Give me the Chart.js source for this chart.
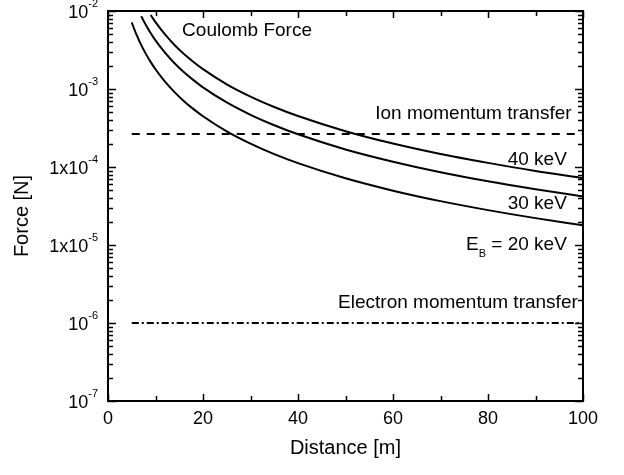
<!DOCTYPE html>
<html>
<head>
<meta charset="utf-8">
<script src="https://cdn.jsdelivr.net/npm/chart.js@4"></script>
<style>
  body { margin: 0; background: #fff; }
  #wrap { width: 624px; height: 475px; }
</style>
</head>
<body>
<div id="wrap"><canvas id="myChart"></canvas></div>
<script>
// Coulomb force curves
const dist20 = [5, 5.5, 6, 7, 8, 9, 10, 12, 14, 16, 18, 20, 25, 30, 35, 40, 50, 60, 70, 80, 90, 100];
const force20 = [7.16e-3, 5.92e-3, 4.97e-3, 3.65e-3, 2.80e-3, 2.21e-3, 1.79e-3, 1.24e-3, 9.13e-4, 6.99e-4, 5.52e-4,
                 4.48e-4, 2.86e-4, 1.99e-4, 1.46e-4, 1.12e-4, 7.16e-5, 4.97e-5, 3.65e-5, 2.80e-5, 2.21e-5, 1.79e-5];

const dist30 = [7, 7.5, 8, 9, 10, 12, 14, 16, 18, 20, 25, 30, 35, 40, 50, 60, 70, 80, 90, 100];
const force30 = [8.57e-3, 7.47e-3, 6.56e-3, 5.19e-3, 4.20e-3, 2.92e-3, 2.14e-3, 1.64e-3, 1.30e-3, 1.05e-3,
                 6.72e-4, 4.67e-4, 3.43e-4, 2.63e-4, 1.68e-4, 1.17e-4, 8.57e-5, 6.56e-5, 5.19e-5, 4.20e-5];

const dist40 = [9, 9.5, 10, 12, 14, 16, 18, 20, 25, 30, 35, 40, 50, 60, 70, 80, 90, 100];
const force40 = [8.89e-3, 7.98e-3, 7.20e-3, 5.00e-3, 3.67e-3, 2.81e-3, 2.22e-3, 1.80e-3, 1.15e-3, 8.00e-4,
                 5.88e-4, 4.50e-4, 2.88e-4, 2.00e-4, 1.47e-4, 1.13e-4, 8.89e-5, 7.20e-5];

// momentum transfer thresholds (horizontal lines)
const levelRange = [5, 100];
const ionLevel = 2.65e-4;
const electronLevel = 1e-6;

// axes
const xMin = 0, xMax = 100;
const xTickValues = [0, 20, 40, 60, 80, 100];
const yTickValues = [1e-2, 1e-3, 1e-4, 1e-5, 1e-6, 1e-7];
const yTickBases = ['10', '10', '1x10', '1x10', '10', '10'];
const yTickExps = ['-2', '-3', '-4', '-5', '-6', '-7'];

const FONT = '"Liberation Sans", Arial, Helvetica, sans-serif';

function toPoints(xs, ys) {
    return xs.map((x, i) => ({ x: x, y: ys[i] }));
}

const curveStyle = {
    borderColor: '#000',
    borderWidth: 2,
    pointRadius: 0,
    fill: false,
    cubicInterpolationMode: 'monotone'
};

const framePlugin = {
    id: 'frame',
    afterDraw(chart) {
        const ctx = chart.ctx;
        const area = chart.chartArea;
        const xs = chart.scales.x;
        const ys = chart.scales.y;
        ctx.save();
        ctx.strokeStyle = '#000';
        ctx.fillStyle = '#000';

        // frame
        ctx.lineWidth = 2;
        ctx.strokeRect(area.left, area.top, area.right - area.left, area.bottom - area.top);

        // x ticks (inside, top and bottom)
        ctx.lineWidth = 1.5;
        ctx.beginPath();
        for (let v = xMin; v <= xMax; v += 10) {
            const px = Math.round(xs.getPixelForValue(v)) + 0.5;
            const len = (v % 20 === 0) ? 7 : 5;
            ctx.moveTo(px, area.bottom); ctx.lineTo(px, area.bottom - len);
            ctx.moveTo(px, area.top); ctx.lineTo(px, area.top + len);
        }
        // y ticks (log, inside, left and right)
        for (let e = -7; e <= -2; e++) {
            for (let m = 1; m <= 9; m++) {
                if (e === -2 && m > 1) break;
                const py = Math.round(ys.getPixelForValue(m * Math.pow(10, e))) + 0.5;
                const len = m === 1 ? 8 : 5;
                ctx.moveTo(area.left, py); ctx.lineTo(area.left + len, py);
                ctx.moveTo(area.right, py); ctx.lineTo(area.right - len, py);
            }
        }
        ctx.stroke();

        // x tick labels
        ctx.font = '18px ' + FONT;
        ctx.textAlign = 'center';
        ctx.textBaseline = 'middle';
        xTickValues.forEach(v => {
            ctx.fillText(String(v), xs.getPixelForValue(v), area.bottom + 18);
        });

        // y tick labels with superscript exponents
        yTickValues.forEach((v, i) => {
            const py = ys.getPixelForValue(v);
            const right = area.left - 10;
            ctx.font = '11px ' + FONT;
            const ew = ctx.measureText(yTickExps[i]).width;
            ctx.textAlign = 'right';
            ctx.fillText(yTickExps[i], right, py - 7);
            ctx.font = '18px ' + FONT;
            ctx.fillText(yTickBases[i], right - ew, py + 2);
        });

        // axis titles
        ctx.font = '20px ' + FONT;
        ctx.textAlign = 'center';
        ctx.fillText('Distance [m]', (area.left + area.right) / 2, area.bottom + 47);
        ctx.save();
        ctx.translate(22, (area.top + area.bottom) / 2 + 10);
        ctx.rotate(-Math.PI / 2);
        ctx.fillText('Force [N]', 0, 0);
        ctx.restore();

        // annotations
        ctx.font = '19px ' + FONT;
        ctx.textAlign = 'left';
        ctx.fillText('Coulomb Force', xs.getPixelForValue(15.6), ys.getPixelForValue(5.5e-3));
        ctx.textAlign = 'right';
        ctx.fillText('Ion momentum transfer', xs.getPixelForValue(97.6), ys.getPixelForValue(4.8e-4));
        ctx.fillText('40 keV', xs.getPixelForValue(96.6), ys.getPixelForValue(1.23e-4));
        ctx.fillText('30 keV', xs.getPixelForValue(96.6), ys.getPixelForValue(3.36e-5));
        ctx.fillText('Electron momentum transfer', xs.getPixelForValue(98.9), ys.getPixelForValue(1.8e-6));

        // E_B = 20 keV with subscript
        const ex = xs.getPixelForValue(96.6);
        const ey = ys.getPixelForValue(1.0e-5);
        const rest = ' = 20 keV';
        const restW = ctx.measureText(rest).width;
        ctx.fillText(rest, ex, ey);
        ctx.font = '11px ' + FONT;
        const bw = ctx.measureText('B').width;
        ctx.fillText('B', ex - restW, ey + 9);
        ctx.font = '19px ' + FONT;
        ctx.fillText('E', ex - restW - bw, ey);

        ctx.restore();
    }
};

window.onload = function() {
    const ctx = document.getElementById('myChart').getContext('2d');
    new Chart(ctx, {
        type: 'line',
        data: {
            datasets: [
                Object.assign({ label: '20 keV', data: toPoints(dist20, force20) }, curveStyle),
                Object.assign({ label: '30 keV', data: toPoints(dist30, force30) }, curveStyle),
                Object.assign({ label: '40 keV', data: toPoints(dist40, force40) }, curveStyle),
                {
                    label: 'Ion momentum transfer',
                    data: toPoints(levelRange, [ionLevel, ionLevel]),
                    borderColor: '#000',
                    borderWidth: 2,
                    borderDash: [8, 7],
                    pointRadius: 0
                },
                {
                    label: 'Electron momentum transfer',
                    data: toPoints(levelRange, [electronLevel, electronLevel]),
                    borderColor: '#000',
                    borderWidth: 2,
                    borderDash: [7, 3, 2, 3],
                    pointRadius: 0
                }
            ]
        },
        options: {
            responsive: true,
            maintainAspectRatio: false,
            animation: false,
            layout: { padding: { left: 108, right: 41, top: 11, bottom: 74 } },
            plugins: {
                legend: { display: false },
                tooltip: { enabled: false }
            },
            scales: {
                x: { type: 'linear', min: xMin, max: xMax, display: false },
                y: { type: 'logarithmic', min: 1e-7, max: 1e-2, display: false }
            }
        },
        plugins: [framePlugin]
    });
};
</script>
</body>
</html>
